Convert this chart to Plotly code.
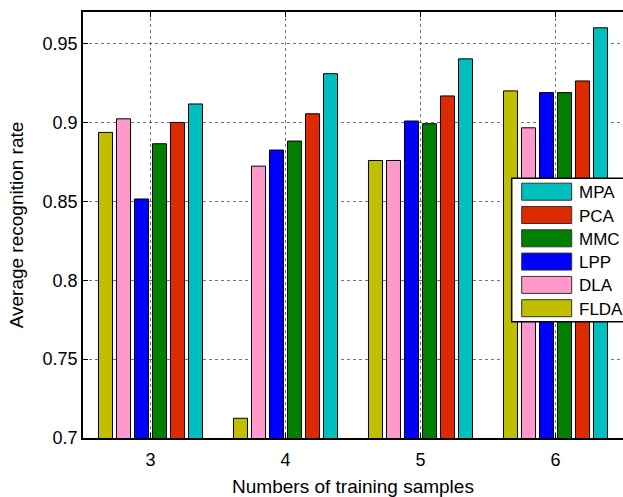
import plotly.graph_objects as go

# ---- data ----
training_samples = [3, 4, 5, 6]
methods = ["FLDA", "DLA", "LPP", "MMC", "PCA", "MPA"]
flda = [0.8937, 0.7125, 0.8759, 0.9200]
dla = [0.9023, 0.8723, 0.8759, 0.8966]
lpp = [0.8515, 0.8825, 0.9009, 0.9189]
mmc = [0.8865, 0.8882, 0.8992, 0.9189]
pca = [0.9000, 0.9055, 0.9168, 0.9263]
mpa = [0.9117, 0.9309, 0.9403, 0.9600]
y_ticks = [0.7, 0.75, 0.8, 0.85, 0.9, 0.95]
y_tick_labels = ["0.7", "0.75", "0.8", "0.85", "0.9", "0.95"]

series = [flda, dla, lpp, mmc, pca, mpa]
colors = ["#BFBF00", "#FF99CC", "#0000FF", "#007F00", "#DD2A00", "#00BFBF"]

W, H = 623, 497
ML, MR, MT, MB = 83, 0, 12, 59
FONT = "Liberation Sans, Arial, Helvetica, sans-serif"

fig = go.Figure()
for name, vals, col in zip(methods, series, colors):
    fig.add_trace(go.Bar(
        x=training_samples, y=vals, name=name,
        marker=dict(color=col, line=dict(color="black", width=1)),
        showlegend=False,
    ))

def px_x(px):
    return (px - ML) / (W - ML - MR)

def px_y(py):
    return 1 - (py - MT) / (H - MT - MB)

shapes = []
annotations = []
# legend box
shapes.append(dict(type="rect", xref="paper", yref="paper",
                   x0=px_x(511.7), x1=px_x(640), y0=px_y(321.7), y1=px_y(178.3),
                   fillcolor="white", line=dict(color="black", width=1.5), layer="above"))
legend_order = list(reversed(range(len(methods))))
for i, idx in enumerate(legend_order):
    cy = 191.7 + i * 23.3
    shapes.append(dict(type="rect", xref="paper", yref="paper",
                       x0=px_x(521.7), x1=px_x(571.7), y0=px_y(cy + 8.5), y1=px_y(cy - 8.5),
                       fillcolor=colors[idx], line=dict(color="#333333", width=1), layer="above"))
    annotations.append(dict(xref="paper", yref="paper", x=px_x(577), y=px_y(cy + 1),
                            text=methods[idx], showarrow=False, xanchor="left", yanchor="middle",
                            font=dict(family=FONT, size=17, color="black")))

fig.update_layout(
    width=W, height=H,
    margin=dict(l=ML, r=MR, t=MT, b=MB, autoexpand=False),
    paper_bgcolor="white", plot_bgcolor="white",
    barmode="group", bargap=0.2, bargroupgap=0.22,
    font=dict(family=FONT, size=18, color="black"),
    shapes=shapes, annotations=annotations,
    xaxis=dict(
        range=[2.5, 6.5], tickvals=training_samples,
        ticktext=[str(v) for v in training_samples],
        showgrid=True, gridcolor="rgba(0,0,0,0.55)", griddash="dot", gridwidth=1,
        showline=True, linecolor="black", linewidth=1.5, mirror="ticks",
        ticks="inside", ticklen=5, tickcolor="black", ticklabelstandoff=5,
        title=dict(text="Numbers of training samples", font=dict(size=19), standoff=10),
        zeroline=False,
    ),
    yaxis=dict(
        range=[0.7, 0.97], tickvals=y_ticks, ticktext=y_tick_labels,
        showgrid=True, gridcolor="rgba(0,0,0,0.55)", griddash="dot", gridwidth=1,
        showline=True, linecolor="black", linewidth=1.5,
        ticks="inside", ticklen=5, tickcolor="black",
        title=dict(text="Average recognition rate", font=dict(size=19), standoff=14),
        zeroline=False,
    ),
)

fig.write_html("out.html", config={"displayModeBar": False},
               post_script="document.body.style.margin='0';document.body.style.overflow='hidden';")
